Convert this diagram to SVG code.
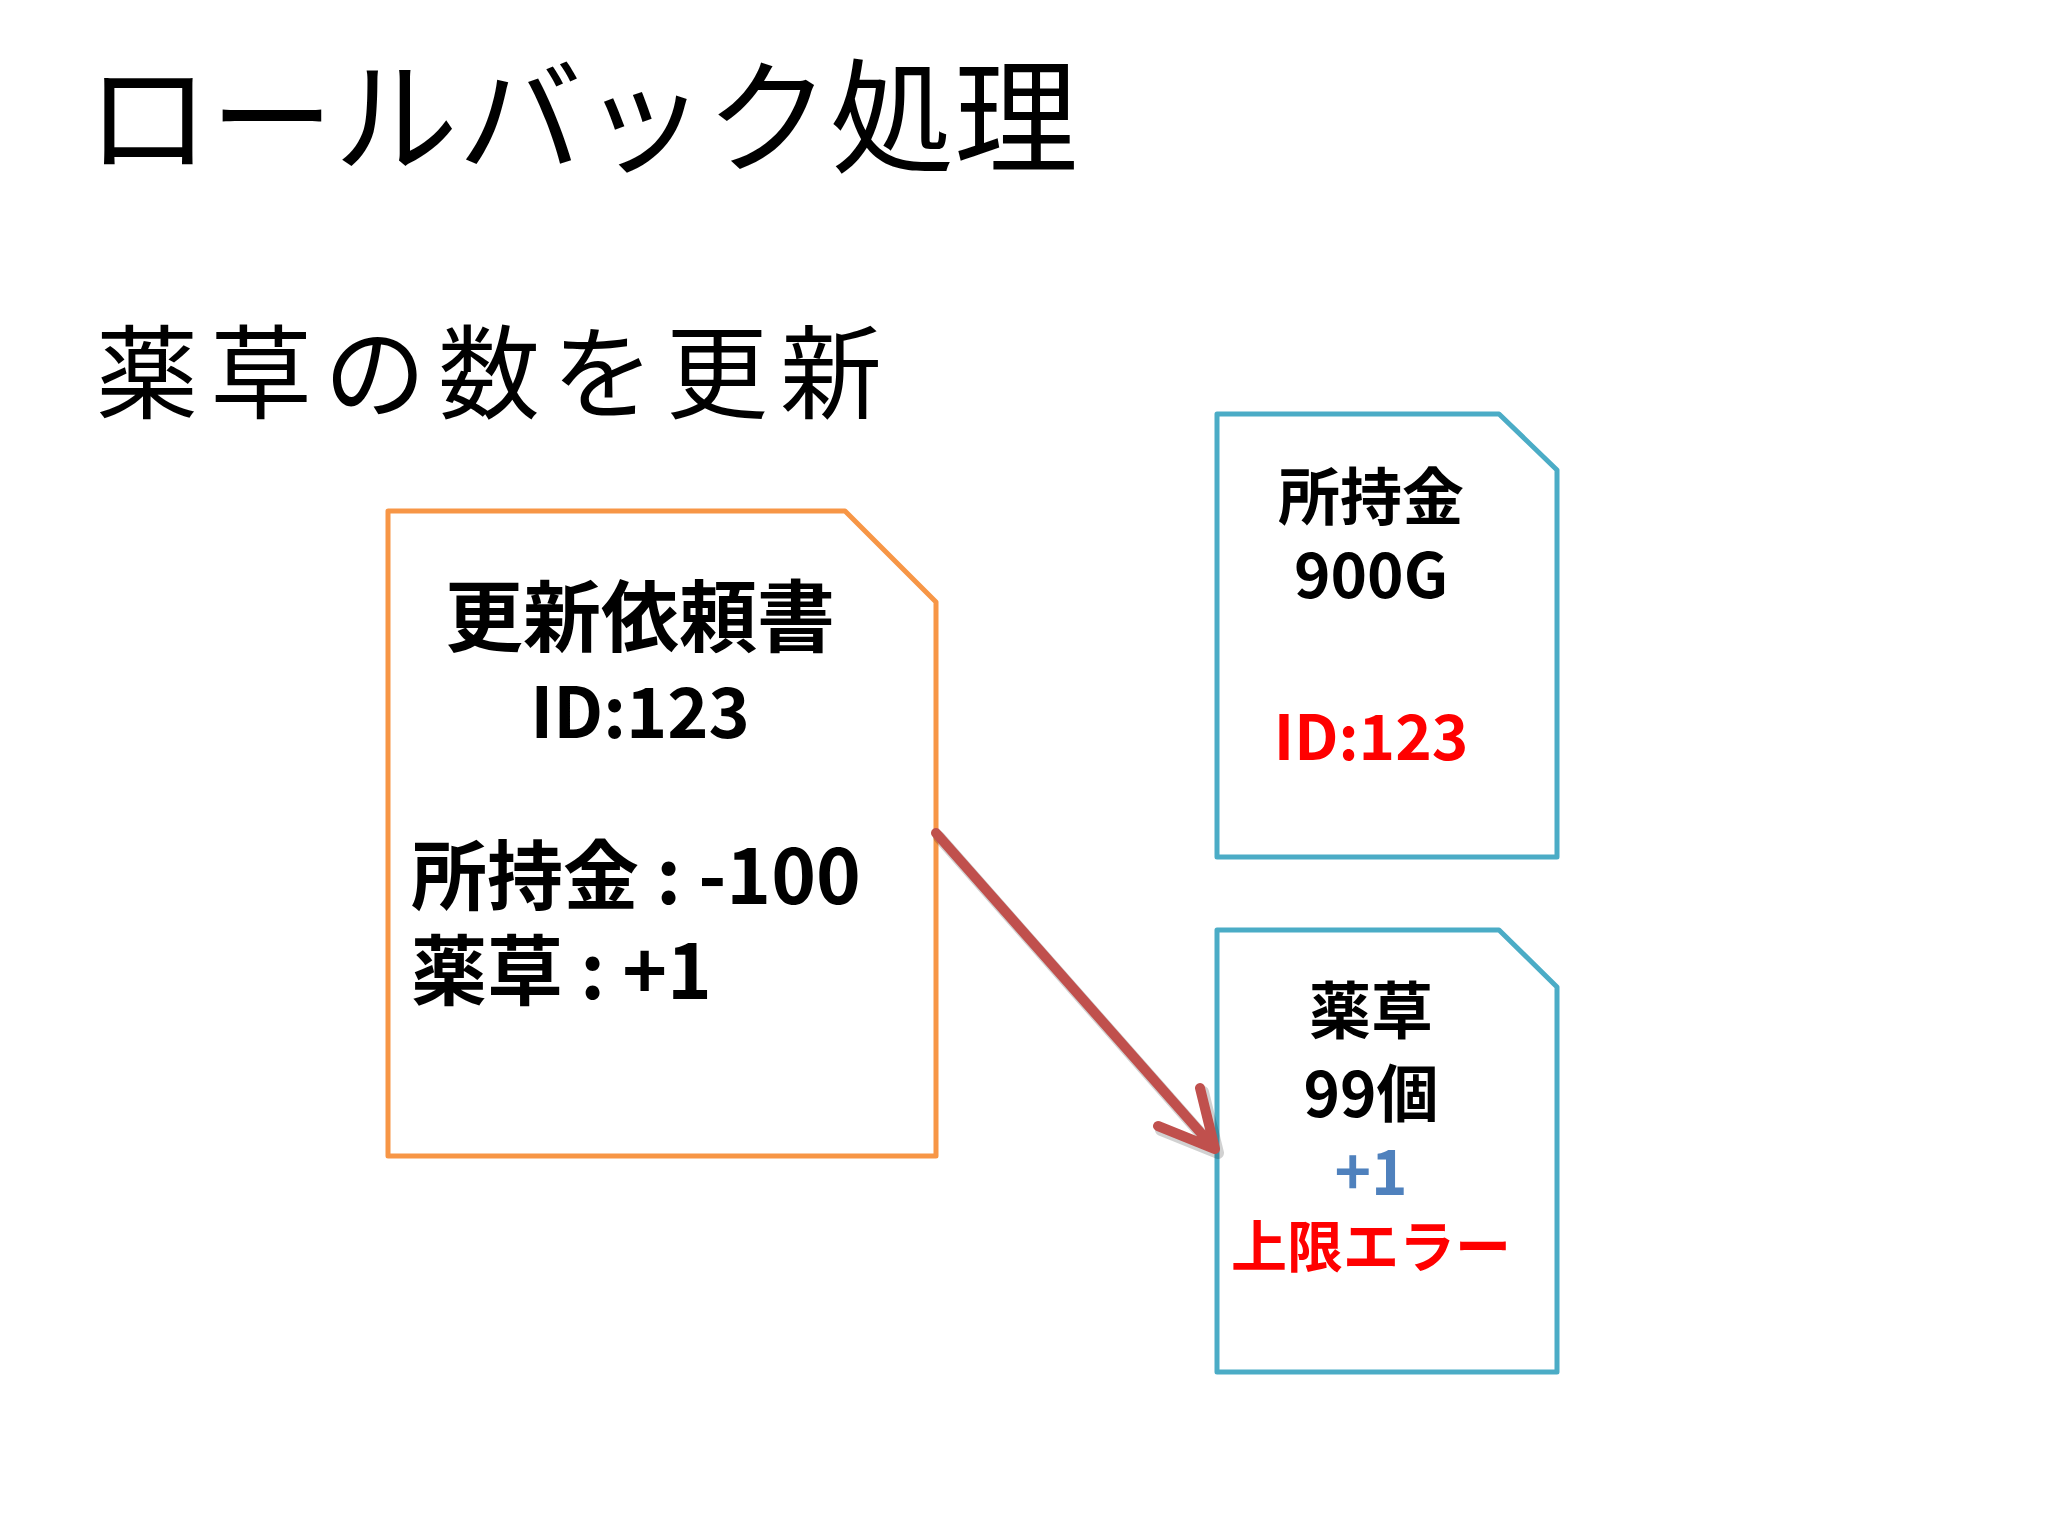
<svg xmlns="http://www.w3.org/2000/svg" width="2048" height="1536" viewBox="0 0 2048 1536">
<style>
.t{font-family:"Noto Sans CJK JP","Noto Sans",sans-serif;}
.b{font-family:"Noto Sans CJK JP","Noto Sans",sans-serif;font-weight:bold;font-size:62px;text-anchor:middle;}
.l{text-anchor:start;font-size:76px}
.doc{fill:#fff;stroke-width:5;stroke-linejoin:round}
</style>
<rect width="2048" height="1536" fill="#fff"/>
<text class="t" x="86" y="163" font-size="124">ロールバック処理</text>
<text class="t" x="96" y="411" font-size="102" letter-spacing="12">薬草の数を更新</text>
<g id="request">
<path class="doc" stroke="#f79646" d="M388,511 H845 L936,602 V1156 H388 Z"/>
<text class="b" x="640" y="646" style="font-size:78px">更新依頼書</text>
<text class="b" x="640" y="738" style="font-size:70px">ID:123</text>
<text class="b l" x="411" y="904">所持金 : -100</text>
<text class="b l" x="411" y="999">薬草 : +1</text>
</g>
<g id="money">
<path class="doc" stroke="#4bacc6" d="M1217,414 H1499 L1557,470 V857 H1217 Z"/>
<text class="b" x="1371" y="520">所持金</text>
<text class="b" x="1371" y="598">900G</text>
<text class="b" x="1371" y="760" fill="#ff0000">ID:123</text>
</g>
<g id="herb">
<path class="doc" stroke="#4bacc6" d="M1217,930 H1499 L1557,987 V1372 H1217 Z"/>
<text class="b" x="1371" y="1034">薬草</text>
<text class="b" x="1371" y="1117">99個</text>
<text class="b" x="1371" y="1195" fill="#4f81bd">+1</text>
<text class="b" x="1371" y="1267" fill="#ff0000" style="font-size:56px">上限エラー</text>
</g>
<g id="connectors" fill="none" stroke-linecap="round" stroke-linejoin="round">
<g stroke="#000" stroke-opacity="0.18" stroke-width="12" transform="translate(3,4)">
<path d="M936,833 L1215,1149 M1200,1088 L1215,1149 L1158,1126"/>
</g>
<path stroke="#c0504d" stroke-width="10" d="M936,833 L1215,1149 M1200,1088 L1215,1149 L1158,1126"/>
</g>
</svg>
